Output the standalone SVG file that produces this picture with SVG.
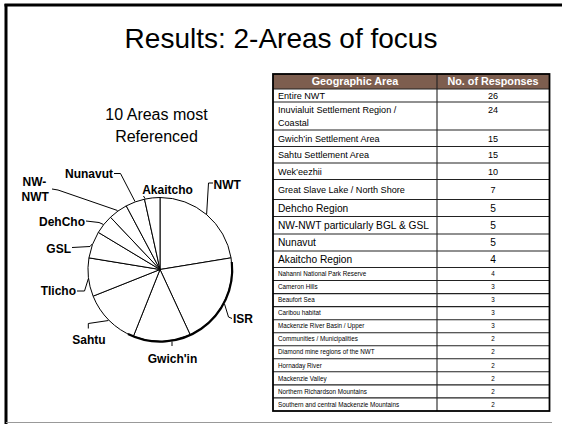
<svg xmlns="http://www.w3.org/2000/svg" width="562" height="424" viewBox="0 0 562 424">
<style>
text{font-family:"Liberation Sans",Arial,sans-serif;fill:#000}
.lbl{font-size:12px;font-weight:bold}
.slice{fill:#fff;stroke:#000;stroke-width:1}
.lead{fill:none;stroke:#000;stroke-width:1}
.t1{font-size:9.1px}
.t2{font-size:10.2px}
.t3{font-size:6.3px}
.hd{font-size:10.8px;font-weight:bold;fill:#fff}
.rl{stroke:#222;stroke-width:1.1}
</style>
<rect width="562" height="424" fill="#fff"/>
<g id="frame">
<line x1="4.5" y1="5" x2="562" y2="5" stroke="#000" stroke-width="3"/>
<line x1="6" y1="4" x2="6" y2="424" stroke="#000" stroke-width="3"/>
<line x1="6" y1="422.5" x2="552" y2="422.5" stroke="#999" stroke-width="1.2"/>
</g>
<g id="title"><text x="281" y="48" font-size="28" text-anchor="middle">Results: 2-Areas of focus</text></g>
<g id="subtitle"><text x="156.5" y="120" font-size="16" text-anchor="middle">10 Areas most</text><text x="156.5" y="141.5" font-size="16" text-anchor="middle">Referenced</text></g>
<g id="pie">
<g id="s-nwt"><path class="slice" d="M160,269.5 L160,197.5 A72,72 0 0 1 231.05,257.85 Z"/></g>
<g id="s-isr"><path class="slice" d="M160,269.5 L231.05,257.85 A72,72 0 0 1 190.23,334.85 Z"/></g>
<g id="s-gwichin"><path class="slice" d="M160,269.5 L190.23,334.85 A72,72 0 0 1 133.35,336.39 Z"/></g>
<g id="s-sahtu"><path class="slice" d="M160,269.5 L133.35,336.39 A72,72 0 0 1 93.11,296.15 Z"/></g>
<g id="s-tlicho"><path class="slice" d="M160,269.5 L93.11,296.15 A72,72 0 0 1 88.95,257.85 Z"/></g>
<g id="s-gsl"><path class="slice" d="M160,269.5 L88.95,257.85 A72,72 0 0 1 98.30,232.38 Z"/></g>
<g id="s-dehcho"><path class="slice" d="M160,269.5 L98.30,232.38 A72,72 0 0 1 110.48,217.23 Z"/></g>
<g id="s-nwnwt"><path class="slice" d="M160,269.5 L110.48,217.23 A72,72 0 0 1 126.28,205.89 Z"/></g>
<g id="s-nunavut"><path class="slice" d="M160,269.5 L126.28,205.89 A72,72 0 0 1 144.53,199.19 Z"/></g>
<g id="s-akaitcho"><path class="slice" d="M160,269.5 L144.53,199.19 A72,72 0 0 1 160,197.5 Z"/></g>
<path d="M231.8,262 A72,72 0 0 1 128,334" fill="none" stroke="#000" stroke-width="2.2"/>
</g>
<g id="connectors">
<polyline class="lead" points="213,183 208.5,183 206.6,214.6"/>
<polyline class="lead" points="232,318.5 228.5,317 224.5,304"/>
<polyline class="lead" points="172,341.5 172,346"/>
<polyline class="lead" points="88.3,328.5 88.3,323.5 108.5,320.5"/>
<polyline class="lead" points="77,291 84.5,291 88.4,278.5"/>
<polyline class="lead" points="72,247.5 90,246.5 92.2,244"/>
<polyline class="lead" points="86,221 99,222.5 103.5,224.5"/>
<polyline class="lead" points="52,189 58,190 117.5,210.5"/>
<polyline class="lead" points="114,173.5 120.5,173.5 135,201.5"/>
<polyline class="lead" points="145,198.5 143.5,196"/>
</g>
<g id="labels">
<g id="l-nwt"><text class="lbl" x="213.5" y="188.5">NWT</text></g>
<g id="l-isr"><text class="lbl" x="233" y="323">ISR</text></g>
<g id="l-gwichin"><text class="lbl" x="172.5" y="362.5" text-anchor="middle">Gwich'in</text></g>
<g id="l-sahtu"><text class="lbl" x="89" y="343.5" text-anchor="middle">Sahtu</text></g>
<g id="l-tlicho"><text class="lbl" x="76" y="295" text-anchor="end">Tlicho</text></g>
<g id="l-gsl"><text class="lbl" x="71" y="252.5" text-anchor="end">GSL</text></g>
<g id="l-dehcho"><text class="lbl" x="85" y="225.5" text-anchor="end">DehCho</text></g>
<g id="l-nwnwt"><text class="lbl" x="22.5" y="186">NW-</text><text class="lbl" x="21.5" y="201">NWT</text></g>
<g id="l-nunavut"><text class="lbl" x="113" y="177.5" text-anchor="end">Nunavut</text></g>
<g id="l-akaitcho"><text class="lbl" x="167.5" y="194" text-anchor="middle">Akaitcho</text></g>
</g>
<g id="table">
<rect x="273" y="74" width="276.5" height="15" fill="#7d5e4f"/>
<text class="hd" x="355" y="85.3" text-anchor="middle">Geographic Area</text>
<text class="hd" x="493" y="85.3" text-anchor="middle">No. of Responses</text>
<g class="rows">
<line class="rl" x1="273" y1="89" x2="549.5" y2="89"/>
<line class="rl" x1="273" y1="102" x2="549.5" y2="102"/>
<line class="rl" x1="273" y1="130" x2="549.5" y2="130"/>
<line class="rl" x1="273" y1="146.5" x2="549.5" y2="146.5"/>
<line class="rl" x1="273" y1="163" x2="549.5" y2="163"/>
<line class="rl" x1="273" y1="179.5" x2="549.5" y2="179.5"/>
<line class="rl" x1="273" y1="199.5" x2="549.5" y2="199.5"/>
<line class="rl" x1="273" y1="216.5" x2="549.5" y2="216.5"/>
<line class="rl" x1="273" y1="234" x2="549.5" y2="234"/>
<line class="rl" x1="273" y1="251" x2="549.5" y2="251"/>
<line class="rl" x1="273" y1="267.5" x2="549.5" y2="267.5"/>
<line class="rl" x1="273" y1="280.5" x2="549.5" y2="280.5"/>
<line class="rl" x1="273" y1="293.6" x2="549.5" y2="293.6"/>
<line class="rl" x1="273" y1="306.6" x2="549.5" y2="306.6"/>
<line class="rl" x1="273" y1="319.7" x2="549.5" y2="319.7"/>
<line class="rl" x1="273" y1="332.7" x2="549.5" y2="332.7"/>
<line class="rl" x1="273" y1="345.7" x2="549.5" y2="345.7"/>
<line class="rl" x1="273" y1="358.8" x2="549.5" y2="358.8"/>
<line class="rl" x1="273" y1="371.8" x2="549.5" y2="371.8"/>
<line class="rl" x1="273" y1="384.9" x2="549.5" y2="384.9"/>
<line class="rl" x1="273" y1="397.9" x2="549.5" y2="397.9"/>
<line class="rl" x1="437" y1="74" x2="437" y2="411"/>
</g>
<rect x="273" y="74" width="276.5" height="337" fill="none" stroke="#000" stroke-width="1.8"/>
<g class="t1">
<text x="278" y="98.8">Entire NWT</text><text x="493" y="98.8" text-anchor="middle">26</text>
<text x="278" y="112.8">Inuvialuit Settlement Region /</text><text x="493" y="112.8" text-anchor="middle">24</text>
<text x="278" y="125.5">Coastal</text>
<text x="278" y="141.5">Gwich’in Settlement Area</text><text x="493" y="141.5" text-anchor="middle">15</text>
<text x="278" y="158">Sahtu Settlement Area</text><text x="493" y="158" text-anchor="middle">15</text>
<text x="278" y="174.5">Wek’eezhii</text><text x="493" y="174.5" text-anchor="middle">10</text>
<text x="278" y="192.5">Great Slave Lake / North Shore</text><text x="493" y="192.5" text-anchor="middle">7</text>
</g>
<g class="t2">
<text x="278" y="211.8">Dehcho Region</text><text x="493" y="211.8" text-anchor="middle">5</text>
<text x="278" y="229">NW-NWT particularly BGL &amp; GSL</text><text x="493" y="229" text-anchor="middle">5</text>
<text x="278" y="246.2">Nunavut</text><text x="493" y="246.2" text-anchor="middle">5</text>
<text x="278" y="263">Akaitcho Region</text><text x="493" y="263" text-anchor="middle">4</text>
</g>
<g class="t3">
<text x="278" y="276.2">Nahanni National Park Reserve</text><text x="493" y="276.2" text-anchor="middle">4</text>
<text x="278" y="289.2">Cameron Hills</text><text x="493" y="289.2" text-anchor="middle">3</text>
<text x="278" y="302.2">Beaufort Sea</text><text x="493" y="302.2" text-anchor="middle">3</text>
<text x="278" y="315.3">Caribou habitat</text><text x="493" y="315.3" text-anchor="middle">3</text>
<text x="278" y="328.3">Mackenzie River Basin / Upper</text><text x="493" y="328.3" text-anchor="middle">3</text>
<text x="278" y="341.4">Communities / Municipalities</text><text x="493" y="341.4" text-anchor="middle">2</text>
<text x="278" y="354.4">Diamond mine regions of the NWT</text><text x="493" y="354.4" text-anchor="middle">2</text>
<text x="278" y="367.5">Hornaday River</text><text x="493" y="367.5" text-anchor="middle">2</text>
<text x="278" y="380.5">Mackenzie Valley</text><text x="493" y="380.5" text-anchor="middle">2</text>
<text x="278" y="393.6">Northern Richardson Mountains</text><text x="493" y="393.6" text-anchor="middle">2</text>
<text x="278" y="406.6">Southern and central Mackenzie Mountains</text><text x="493" y="406.6" text-anchor="middle">2</text>
</g>
</g>
</svg>
